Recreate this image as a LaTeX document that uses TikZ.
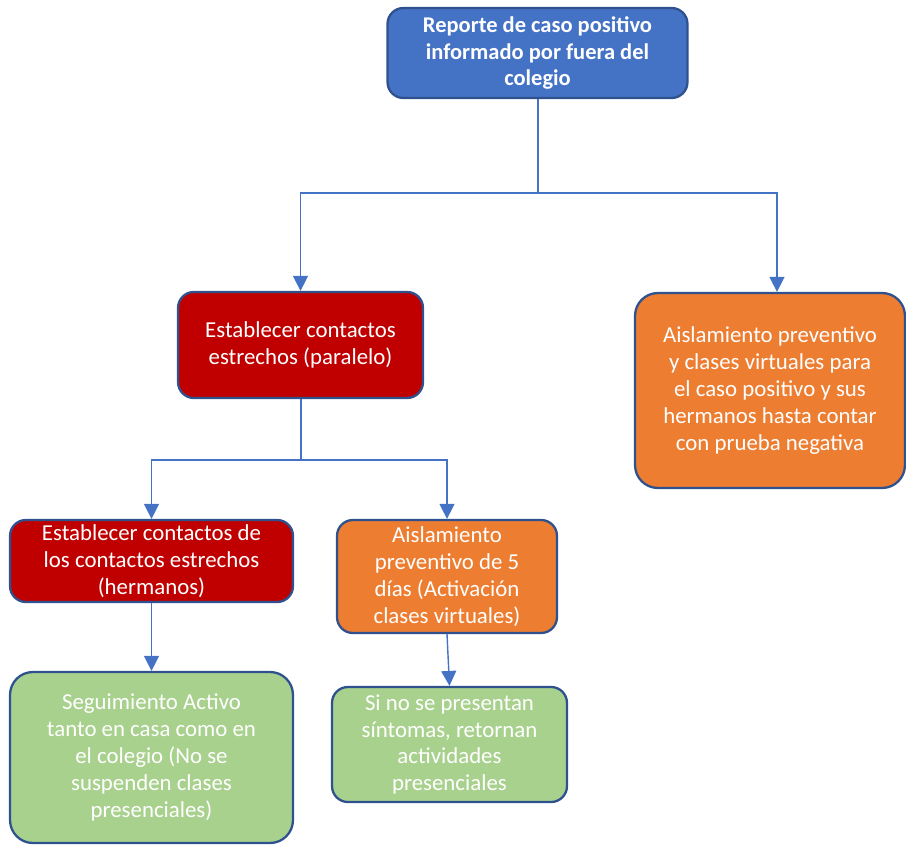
\documentclass[tikz,border=0pt]{standalone}
\usepackage{fontspec}
\setmainfont{Carlito}
\usetikzlibrary{arrows.meta}

\definecolor{azul}{HTML}{4472C4}
\definecolor{azulborde}{HTML}{2F528F}
\definecolor{rojo}{HTML}{C00000}
\definecolor{naranja}{HTML}{ED7D31}
\definecolor{verde}{HTML}{A9D18E}

\begin{document}
\begin{tikzpicture}[x=0.02cm,y=-0.02cm,
  caja/.style={draw=azulborde,line width=1.3pt,rounded corners=9pt,text=white,align=center,inner sep=0pt,
    font=\fontsize{13}{15.3}\selectfont},
  flecha/.style={draw=azul,line width=0.8pt,-{Triangle[length=8.5pt,width=8.5pt]}}]
\useasboundingbox (0,0) rectangle (906,845);

\node[caja,fill=azul,minimum width=6cm,minimum height=1.8cm,font=\fontsize{12.8}{15.2}\selectfont\bfseries] (reporte) at (537.5,53) {Reporte de caso positivo\\informado por fuera del\\colegio};

\node[caja,fill=rojo,minimum width=4.9cm,minimum height=2.12cm] (paralelo) at (300.5,345) {Establecer contactos\\estrechos (paralelo)};

\node[caja,fill=naranja,minimum width=5.4cm,minimum height=3.9cm,rounded corners=13pt] (derecha) at (770,390.5) {Aislamiento preventivo\\y clases virtuales para\\el caso positivo y sus\\hermanos hasta contar\\con prueba negativa};

\node[caja,fill=rojo,minimum width=5.66cm,minimum height=1.64cm] (hermanos) at (151.5,561) {Establecer contactos de\\los contactos estrechos\\(hermanos)};

\node[caja,fill=naranja,minimum width=4.4cm,minimum height=2.26cm] (cinco) at (447,576.5) {Aislamiento\\preventivo de 5\\días (Activación\\clases virtuales)};

\node[caja,fill=verde,minimum width=5.66cm,minimum height=3.42cm,rounded corners=13pt] (seguimiento) at (151.5,757.5) {Seguimiento Activo\\tanto en casa como en\\el colegio (No se\\suspenden clases\\presenciales)};

\node[caja,fill=verde,minimum width=4.7cm,minimum height=2.3cm] (sino) at (449.5,744.5) {Si no se presentan\\síntomas, retornan\\actividades\\presenciales};

% conectores
\coordinate (bus1) at (538,193);
\coordinate (bus2) at (301,460);
\draw[azul,line width=0.8pt] (reporte.south -| bus1) -- (bus1);
\draw[flecha] (bus1) -| (paralelo.north);
\draw[flecha] (bus1) -| ([xshift=0.14cm]derecha.north);
\draw[azul,line width=0.8pt] (paralelo.south -| bus2) -- (bus2);
\draw[flecha] (bus2) -| (hermanos.north);
\draw[flecha] (bus2) -| (cinco.north);
\draw[flecha] (hermanos.south) -- (seguimiento.north);
\draw[flecha] (cinco.south) -- (sino.north);
\end{tikzpicture}
\end{document}
